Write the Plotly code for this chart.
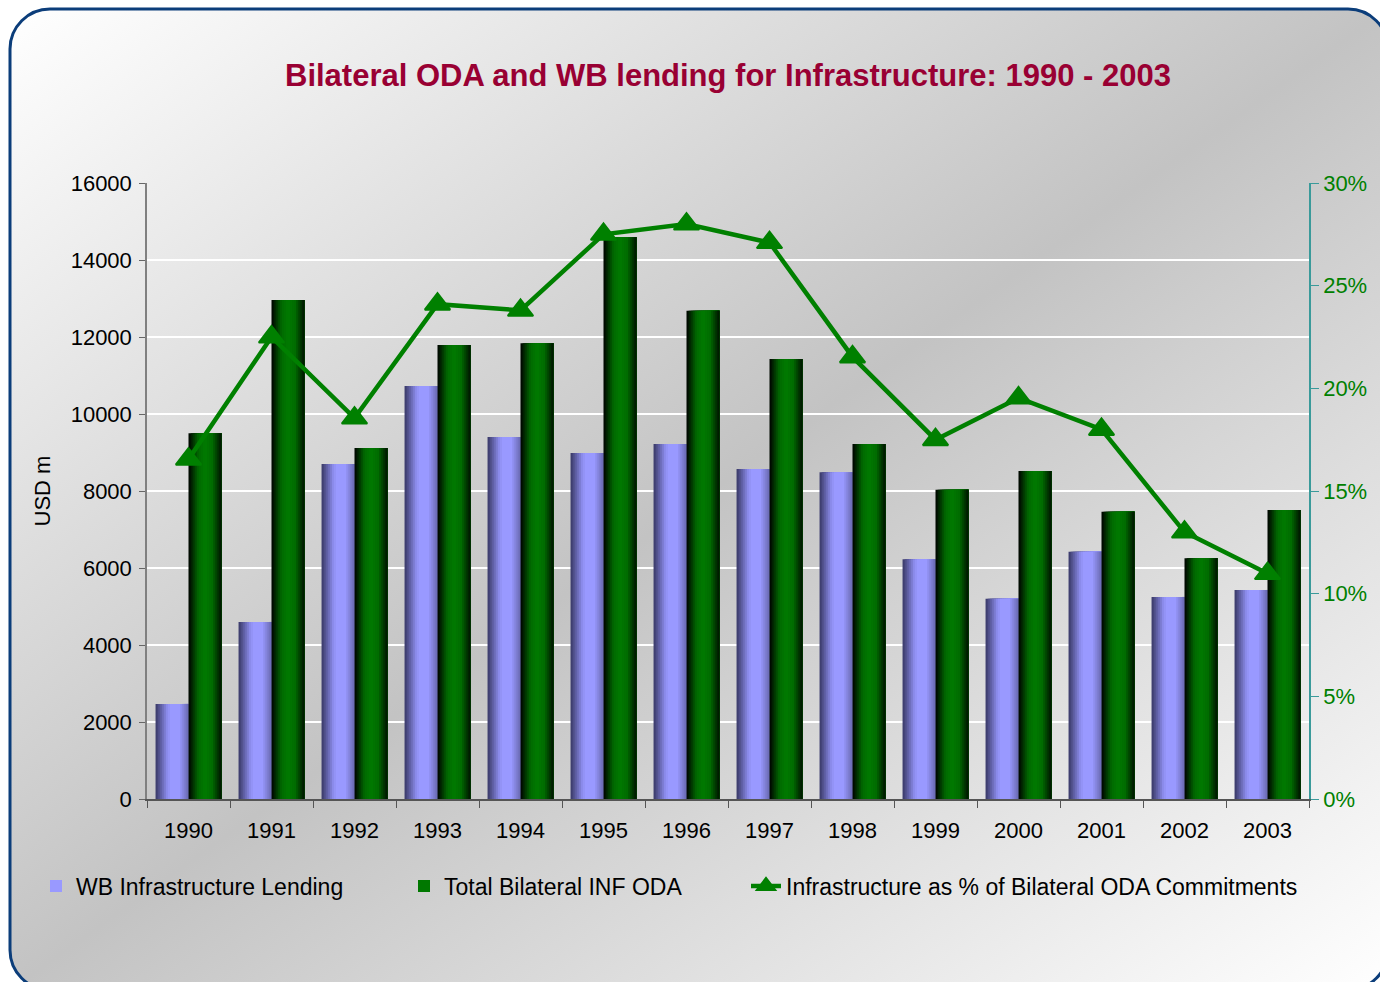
import base64
import plotly.graph_objects as go

# ---------------- data ----------------
years = ["1990", "1991", "1992", "1993", "1994", "1995", "1996",
         "1997", "1998", "1999", "2000", "2001", "2002", "2003"]
wb_lending = [2470, 4600, 8700, 10730, 9400, 8990, 9220,
              8570, 8490, 6230, 5200, 6420, 5250, 5430]
bilateral_oda = [9500, 12960, 9120, 11790, 11840, 14590, 12680,
                 11430, 9220, 8030, 8520, 7460, 6255, 7505]
infra_pct = [0.1655, 0.225, 0.1855, 0.241, 0.238, 0.275, 0.280,
             0.271, 0.2153, 0.175, 0.1953, 0.180, 0.130, 0.1098]

series_names = ["WB Infrastructure Lending", "Total Bilateral INF ODA",
                "Infrastructure as % of Bilateral ODA Commitments"]
title_text = "Bilateral ODA and WB lending for Infrastructure: 1990 - 2003"

# ---------------- geometry ----------------
W, H = 1380, 982
ML, MR, MT, MB = 147, 71, 183, 183
PW, PH = W - ML - MR, H - MT - MB

NARROW = "Liberation Sans Narrow, Arial Narrow, Liberation Sans, Arial, sans-serif"
ARIAL = "Liberation Sans, Arial, sans-serif"


def px_x(px):  # page pixel -> paper x
    return (px - ML) / PW


def px_y(py):  # page pixel -> paper y
    return 1 - (py - MT) / PH


def interp(stops, t):
    for (t0, c0), (t1, c1) in zip(stops[:-1], stops[1:]):
        if t0 <= t <= t1:
            f = (t - t0) / (t1 - t0) if t1 > t0 else 0
            c = [round(a + (b - a) * f) for a, b in zip(c0, c1)]
            return "rgb(%d,%d,%d)" % tuple(c)
    c = stops[-1][1]
    return "rgb(%d,%d,%d)" % tuple(c)


wb_stops = [(0.0, (55, 55, 100)), (0.35, (140, 140, 235)), (0.45, (153, 153, 255)),
            (0.72, (153, 153, 255)), (1.0, (105, 105, 175))]
oda_stops = [(0.0, (0, 0, 0)), (0.3, (0, 105, 0)), (0.5, (0, 122, 0)),
             (0.72, (0, 108, 0)), (1.0, (0, 18, 0))]

fig = go.Figure()

BAR_W = 0.397
N = 16
for vals, off0, stops, name, lg, leg_i in [
    (wb_lending, -BAR_W, wb_stops, series_names[0], "legend", 9),
    (bilateral_oda, 0.0, oda_stops, series_names[1], "legend2", 8),
]:
    for i in range(N):
        t = (i + 0.5) / N
        fig.add_trace(go.Bar(
            x=years, y=vals,
            offset=off0 + i * BAR_W / N,
            width=BAR_W * (N - i) / N,
            marker=dict(color=interp(stops, t), line=dict(width=0)),
            name=name, legendgroup=name, legend=lg,
            showlegend=(i == leg_i),
            hoverinfo="skip" if i != leg_i else None,
            yaxis="y",
        ))

fig.add_trace(go.Scatter(
    x=years, y=infra_pct, yaxis="y2", mode="lines+markers",
    name=series_names[2], legend="legend3",
    line=dict(color="#008000", width=4.5),
    marker=dict(symbol="triangle-up", size=22, color="#008000",
                line=dict(color="#008000", width=2)),
))

# background: diagonal gradient with rounded dark-blue frame
svg = (
    '<svg xmlns="http://www.w3.org/2000/svg" width="%d" height="%d" viewBox="0 0 %d %d">'
    '<defs><linearGradient id="g" x1="0" y1="0" x2="1" y2="1">'
    '<stop offset="0" stop-color="#ffffff"/>'
    '<stop offset="0.5" stop-color="#c3c3c3"/>'
    '<stop offset="1" stop-color="#ffffff"/>'
    '</linearGradient></defs>'
    '<rect x="10" y="9" width="1378" height="981" rx="40" ry="40" fill="url(#g)" '
    'stroke="#0b3d7a" stroke-width="3"/>'
    '</svg>'
) % (W, H, W, H)
src = "data:image/svg+xml;base64," + base64.b64encode(svg.encode()).decode()

legend_common = dict(orientation="h", bgcolor="rgba(0,0,0,0)",
                     font=dict(family=NARROW, size=23, color="#000000"),
                     yanchor="middle", xanchor="left", y=px_y(886))

fig.update_layout(
    width=W, height=H,
    margin=dict(l=ML, r=MR, t=MT, b=MB, autoexpand=False),
    paper_bgcolor="#ffffff",
    plot_bgcolor="rgba(0,0,0,0)",
    barmode="overlay",
    title=dict(text="<b>" + title_text + "</b>", x=0.5, xref="paper",
               y=1 - 75 / H, yref="container", yanchor="middle", xanchor="center",
               font=dict(family=NARROW, size=31, color="#990033")),
    images=[dict(source=src, xref="paper", yref="paper",
                 x=px_x(0), y=px_y(0), sizex=W / PW, sizey=H / PH,
                 xanchor="left", yanchor="top", sizing="stretch", layer="below")],
    xaxis=dict(type="category", tickson="boundaries", ticks="outside", ticklen=7,
               tickcolor="#555555", showline=True, linecolor="#555555", linewidth=1.5,
               showgrid=False, tickfont=dict(family=ARIAL, size=22, color="#000000"),
               ticklabelstandoff=11, range=[-0.5, 13.5]),
    yaxis=dict(range=[0, 16000], dtick=2000, tickformat="d", ticks="outside", ticklen=6,
               tickcolor="#666666", showline=True, linecolor="#808080", linewidth=1.5,
               showgrid=True, gridcolor="#ffffff", gridwidth=1.5, zeroline=False,
               ticklabelstandoff=3,
               tickfont=dict(family=ARIAL, size=22, color="#000000"),
               title=dict(text="USD m", standoff=14,
                          font=dict(family=ARIAL, size=22, color="#000000"))),
    yaxis2=dict(range=[0, 0.30], dtick=0.05, tickformat=".0%", overlaying="y",
                side="right", ticks="outside", ticklen=8, tickcolor="#3a9a9a",
                showline=True, linecolor="#3a9a9a", linewidth=1.5, showgrid=False,
                zeroline=False,
                tickfont=dict(family=ARIAL, size=22, color="#008000")),
    legend=dict(legend_common, x=px_x(36)),
    legend2=dict(legend_common, x=px_x(404)),
    legend3=dict(legend_common, x=px_x(746)),
    showlegend=True,
)

fig.write_html(
    "out.html",
    config={"displayModeBar": False},
    post_script="document.body.style.margin='0';document.body.style.overflow='hidden';",
)
